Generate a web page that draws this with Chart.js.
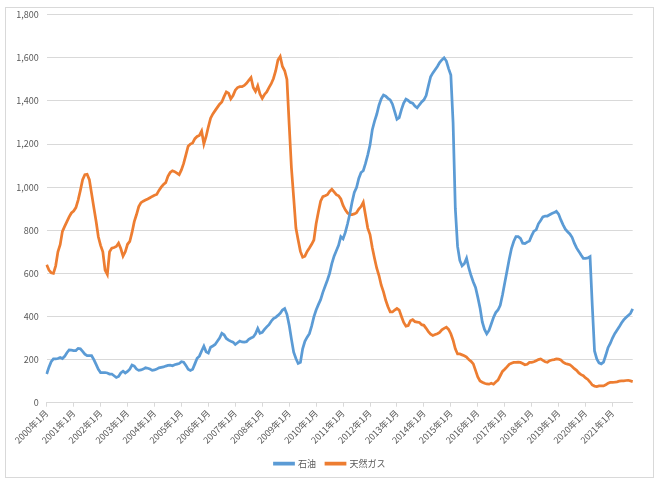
<!DOCTYPE html>
<html>
<head>
<meta charset="utf-8">
<script src="https://cdn.jsdelivr.net/npm/chart.js@4.4.1/dist/chart.umd.min.js"></script>
<style>
  body { margin: 0; background: #fff; }
  #wrap { position: relative; width: 660px; height: 481px; }
  #frame { position: absolute; left: 5px; top: 7px; width: 647px; height: 469px; border: 1px solid #d9d9d9; }
  #chart { position: absolute; left: 0; top: 0; }
</style>
</head>
<body>
<div id="wrap">
  <div id="frame"></div>
  <canvas id="chart" width="660" height="481"></canvas>
</div>
<script>
// monthly values, Jan 2000 .. Oct 2021 (one row per year)
const startYear = 2000;

const oil = [
  133,165,190,203,203,205,210,205,215,232,245,244,
  242,242,252,250,238,225,218,218,218,200,178,155,
  140,140,140,138,133,133,125,117,122,138,146,138,
  145,156,175,170,156,150,152,156,162,160,156,150,
  152,156,162,164,166,170,173,174,171,176,179,182,
  190,188,173,155,150,155,180,206,216,240,262,236,
  230,257,263,270,285,300,322,315,298,290,285,281,
  270,278,286,282,281,283,294,300,305,320,345,322,
  326,340,352,362,378,390,396,405,415,430,437,410,
  360,295,234,205,182,187,250,285,304,320,355,398,
  430,455,478,512,540,568,600,645,680,705,730,770,
  760,790,830,875,930,975,998,1040,1068,1076,1110,1150,
  1195,1265,1305,1338,1380,1410,1427,1422,1412,1405,1385,1350,
  1315,1322,1360,1390,1408,1402,1393,1390,1376,1368,1382,1395,
  1405,1425,1470,1512,1530,1545,1560,1578,1590,1600,1585,1550,
  1520,1300,900,725,660,635,645,670,625,590,560,535,
  490,440,375,340,320,335,365,395,418,430,452,500,
  555,610,665,715,748,770,770,762,740,738,745,750,
  775,796,802,830,845,862,866,866,872,878,882,888,
  875,848,825,805,793,783,767,740,718,702,685,670,
  670,672,678,450,240,203,185,180,188,220,255,275,
  300,320,336,352,370,384,395,405,414,435
];

const gas = [
  640,615,603,600,635,700,733,795,818,840,862,880,
  889,905,940,985,1035,1058,1060,1035,970,905,842,770,
  730,700,615,595,700,717,720,725,740,715,680,700,
  735,748,790,840,873,910,928,935,940,945,951,957,
  962,966,985,1000,1012,1021,1050,1068,1076,1072,1065,1058,
  1080,1110,1150,1190,1200,1205,1225,1235,1240,1260,1200,1235,
  1280,1320,1340,1355,1370,1385,1395,1420,1442,1436,1410,1425,
  1450,1462,1466,1466,1472,1482,1495,1508,1462,1444,1470,1432,
  1412,1430,1442,1462,1480,1504,1540,1590,1606,1560,1540,1500,
  1290,1090,951,810,755,702,675,680,702,718,735,755,
  830,885,935,956,960,965,980,990,978,965,960,945,
  915,895,880,873,873,876,881,898,910,930,870,810,
  780,720,670,624,590,545,514,475,445,421,421,430,
  437,430,400,372,355,358,380,385,376,374,372,362,
  359,345,330,318,312,316,320,326,338,345,350,340,
  320,290,250,226,226,222,218,212,200,192,180,150,
  120,101,95,90,87,86,90,86,96,105,125,145,
  155,166,178,183,187,187,188,187,182,176,178,187,
  187,190,195,200,203,196,190,188,195,198,200,203,
  202,198,188,182,179,176,168,158,150,138,130,125,
  115,108,96,82,77,75,78,78,78,83,90,94,
  94,95,97,100,101,101,103,104,101,98
];

const seriesNames = ['石油', '天然ガス'];
const yMax = 1800;
const yStep = 200;

const months = oil.map((v, i) => `${startYear + Math.floor(i / 12)}年${i % 12 + 1}月`);

const textColor = '#595959';
const gridColor = '#d9d9d9';
const font = { family: "'Noto Sans CJK JP', 'Noto Sans', sans-serif", size: 9 };

// put the legend in the middle of the page rather than the padded box
const centerLegend = {
  id: 'centerLegend',
  afterLayout(chart) {
    const lg = chart.legend;
    const shift = (chart.width - lg.right - lg.left) / 2;
    lg.left += shift;
    lg.right += shift;
  }
};

const ctx = document.getElementById('chart').getContext('2d');
new Chart(ctx, {
  type: 'line',
  data: {
    labels: months,
    datasets: [
      {
        label: seriesNames[0],
        data: oil,
        borderColor: '#5b9bd5',
        backgroundColor: '#5b9bd5',
        borderWidth: 2.75,
        pointRadius: 0,
        tension: 0
      },
      {
        label: seriesNames[1],
        data: gas,
        borderColor: '#ed7d31',
        backgroundColor: '#ed7d31',
        borderWidth: 2.75,
        pointRadius: 0,
        tension: 0
      }
    ]
  },
  options: {
    responsive: false,
    animation: false,
    layout: { padding: { top: 14.7, left: 6, right: 27.3, bottom: 3 } },
    plugins: {
      tooltip: { enabled: false },
      legend: {
        position: 'bottom',
        labels: { boxWidth: 19, boxHeight: 1, color: textColor, font: font, padding: 10 }
      }
    },
    scales: {
      x: {
        offset: false,
        ticks: {
          autoSkip: false,
          minRotation: 45,
          maxRotation: 45,
          color: textColor,
          font: font,
          padding: 1,
          callback: function(value, index) {
            return index % 12 === 0 ? months[index] : null;
          }
        },
        grid: { drawOnChartArea: false, tickLength: 4, color: gridColor },
        border: { color: gridColor },
        afterFit: function(scale) { scale.height = 46.3; }
      },
      y: {
        min: 0,
        max: yMax,
        ticks: {
          stepSize: yStep,
          color: textColor,
          font: font,
          padding: 8,
          callback: function(value) { return value.toLocaleString('en-US'); }
        },
        grid: { color: gridColor, drawTicks: false },
        border: { display: false },
        afterFit: function(scale) { scale.width = 40.7; }
      }
    }
  },
  plugins: [centerLegend]
});
</script>
</body>
</html>
